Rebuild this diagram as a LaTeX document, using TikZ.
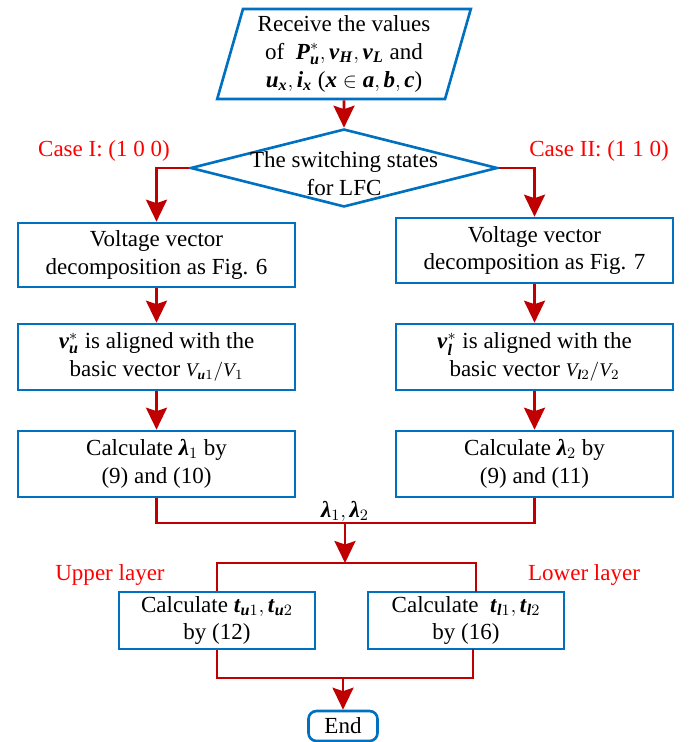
\documentclass[tikz,border=0pt]{standalone}
\usepackage{amsmath}
\usepackage{fontspec}
\setmainfont{Liberation Serif}
\usetikzlibrary{shapes.geometric,arrows.meta}

\definecolor{boxblue}{RGB}{0,112,192}
\definecolor{flowred}{RGB}{192,0,0}
\newcommand{\bfit}[1]{\textbf{\textit{#1}}}

\tikzset{
  txt/.style={font=\fontsize{13.1}{15.9}\selectfont,align=center,inner sep=0pt},
  procbox/.style={txt,draw=boxblue,line width=1.5pt,rectangle,minimum width=5.54cm,minimum height=1.3cm},
  tbox/.style={procbox,minimum width=3.92cm,minimum height=1.14cm},
  inbox/.style={txt,draw=boxblue,line width=1.5pt,trapezium,trapezium left angle=74,trapezium right angle=106,
    trapezium stretches=true,minimum width=5.08cm,minimum height=1.8cm},
  decision/.style={draw=boxblue,line width=1.5pt,diamond,inner sep=0pt,minimum width=6.14cm,minimum height=1.56cm},
  endbox/.style={txt,draw=boxblue,line width=1.5pt,rounded corners=0.16cm,minimum width=1.38cm,minimum height=0.6cm},
  case/.style={txt,text=red},
  line/.style={draw=flowred,line width=1.5pt},
  flow/.style={line,-{Stealth[length=0.44cm,width=0.42cm,inset=0.07cm]}}
}

\begin{document}
\begin{tikzpicture}[x=0.02cm,y=-0.02cm]
\useasboundingbox (0,0) rectangle (696,742);

% Input and decision
\node[inbox] (recv) at (344,54) {Receive the values\\
  of~ $\bfit{P}_{\bfit{u}}^{*}, \bfit{v}_{\bfit{H}}, \bfit{v}_{\bfit{L}}$ and\\
  $\bfit{u}_{\bfit{x}}, \bfit{i}_{\bfit{x}}$ ($\bfit{x} \in \bfit{a}, \bfit{b}, \bfit{c}$)};
\node[decision] (sw) at (344,168) {};
\node[txt] (swtxt) at (344,174) {The switching states\\for LFC};
\node[case] (c1) at (104,151) {Case I: (1 0 0)};
\node[case] (c2) at (599,151) {Case II: (1 1 0)};

% Left branch
\node[procbox,minimum height=1.28cm] (l1) at (156.5,255) {Voltage vector\\decomposition as Fig. 6};
\node[procbox,minimum height=1.32cm] (l2) at (156.5,357) {$\bfit{v}_{\bfit{u}}^{*}$ is aligned with the\\
  basic vector {\fontsize{11}{13}\selectfont $\textit{V}_{\bfit{u}1}/\textit{V}_{1}$}};
\node[procbox,minimum height=1.32cm] (l3) at (156.5,464) {Calculate $\bfit{λ}_{1}$ by\\(9) and (10)};

% Right branch
\node[procbox] (r1) at (534.5,250.5) {Voltage vector\\decomposition as Fig. 7};
\node[procbox,minimum height=1.32cm] (r2) at (534.5,357) {$\bfit{v}_{\bfit{l}}^{*}$ is aligned with the\\
  basic vector {\fontsize{11}{13}\selectfont $\textit{V}_{\bfit{l}2}/\textit{V}_{2}$}};
\node[procbox,minimum height=1.32cm] (r3) at (534.5,464) {Calculate $\bfit{λ}_{2}$ by\\(9) and (11)};

% Merge and layers
\coordinate (mg) at (345,523);
\coordinate (split) at (345,563);
\node[txt] (lam) at (345,511) {$\bfit{λ}_{1}, \bfit{λ}_{2}$};
\node[case] (up) at (110,575) {Upper layer};
\node[case] (low) at (584,575) {Lower layer};
\node[tbox] (l4) at (217,620.5) {Calculate $\bfit{t}_{\bfit{u}1}, \bfit{t}_{\bfit{u}2}$\\by (12)};
\node[tbox] (r4) at (466,620.5) {Calculate~ $\bfit{t}_{\bfit{l}1}, \bfit{t}_{\bfit{l}2}$\\by (16)};
\coordinate (r4in) at (476,592);
\coordinate (r4out) at (473,649);
\coordinate (join) at (343,678);
\node[endbox] (end) at (343,726) {End};

% Connectors
\draw[flow] (recv.south) -- (sw.north);
\draw[flow] (sw.west) -| (l1.north);
\draw[flow] (sw.east) -| (r1.north);
\draw[flow] (l1) -- (l2);
\draw[flow] (l2) -- (l3);
\draw[flow] (r1) -- (r2);
\draw[flow] (r2) -- (r3);
\draw[line] (l3.south) |- (mg) -| (r3.south);
\draw[flow] (mg) -- (split);
\draw[line] (l4.north) |- (split) -| (r4in);
\draw[line] (l4.south) |- (join) -| (r4out);
\draw[flow] (join) -- (end);
\end{tikzpicture}
\end{document}
